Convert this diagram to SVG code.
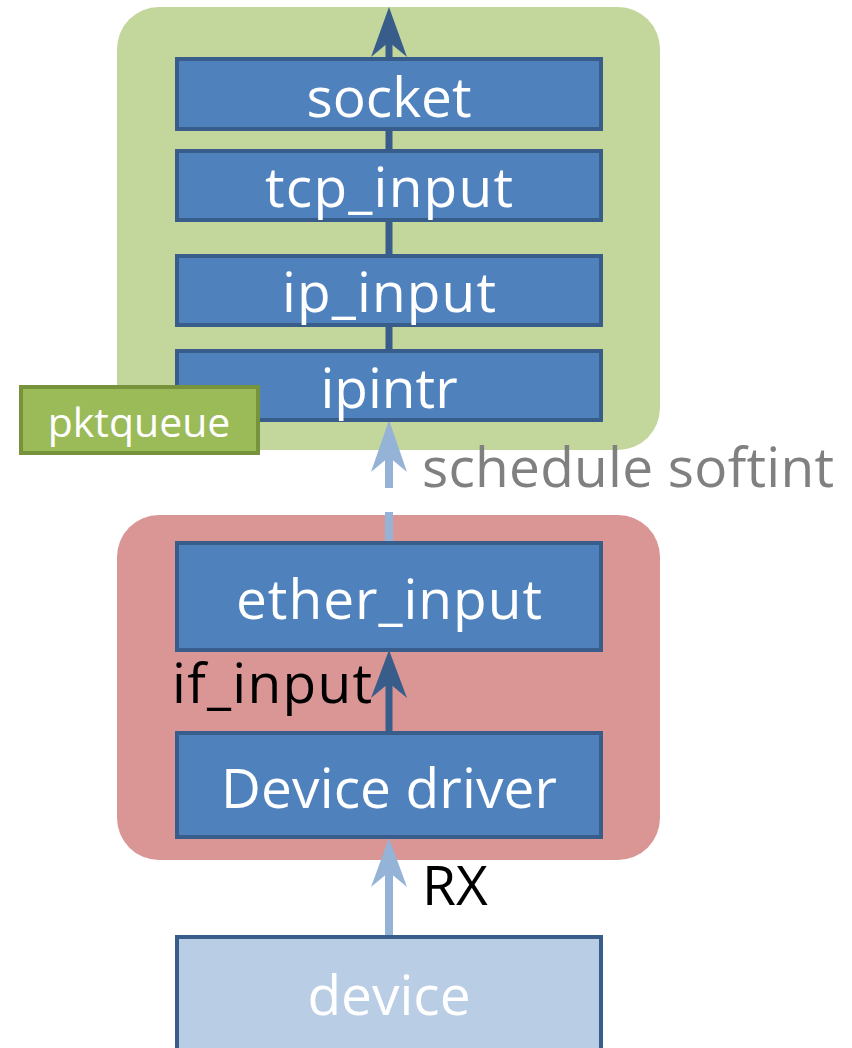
<svg xmlns="http://www.w3.org/2000/svg" width="852" height="1048" viewBox="0 0 852 1048">
  <style>
    .box { fill: #4F81BD; stroke: #385D8A; stroke-width: 4; }
    .dev { fill: #B9CDE5; stroke: #385D8A; stroke-width: 4; }
    .lbl { font-family: "Open Sans", "Noto Sans", sans-serif; font-size: 55px; fill: #FFFFFF; text-anchor: middle; }
    .note { font-family: "Open Sans", "Noto Sans", sans-serif; font-size: 55px; fill: #000000; }
    .dark { stroke: #385D8A; stroke-width: 7; fill: none; }
    .light { stroke: #95B3D7; stroke-width: 8; fill: none; }
  </style>

  <!-- containers -->
  <g id="softint-layer">
    <rect x="117" y="7" width="543" height="443" rx="42" fill="#C3D69B"/>
  </g>
  <g id="hardint-layer">
    <rect x="117" y="515" width="543" height="345" rx="42" fill="#D99694"/>
  </g>

  <!-- connectors -->
  <g id="connectors">
    <!-- upward path through the protocol stack -->
    <line class="dark" x1="389" y1="420" x2="389" y2="40"/>
    <path d="M389 7 L407 57 L389 42 L371 57 Z" fill="#385D8A"/>
    <!-- if_input -->
    <line class="dark" x1="389" y1="733" x2="389" y2="680"/>
    <path d="M389 650 L407 698 L389 683 L371 698 Z" fill="#385D8A"/>
    <!-- schedule softint (dashed) -->
    <line class="light" x1="389" y1="543" x2="389" y2="512"/>
    <line class="light" x1="389" y1="488" x2="389" y2="450"/>
    <path d="M389 420 L407 472 L389 457 L371 472 Z" fill="#95B3D7"/>
    <!-- RX -->
    <line class="light" x1="389" y1="937" x2="389" y2="870"/>
    <path d="M389 838 L407 887 L389 872 L371 887 Z" fill="#95B3D7"/>
  </g>

  <g id="socket">
    <rect class="box" x="177" y="59" width="424" height="70"/>
    <text class="lbl" x="389" y="117">socket</text>
  </g>
  <g id="tcp_input">
    <rect class="box" x="177" y="151" width="424" height="69"/>
    <text class="lbl" x="389" y="207" textLength="248">tcp_input</text>
  </g>
  <g id="ip_input">
    <rect class="box" x="177" y="256" width="424" height="69"/>
    <text class="lbl" x="389" y="312" textLength="214">ip_input</text>
  </g>
  <g id="ipintr">
    <rect class="box" x="177" y="351" width="424" height="69"/>
    <text class="lbl" x="389" y="408">ipintr</text>
  </g>
  <g id="pktqueue">
    <rect x="21" y="387" width="237" height="66" fill="#9BBB59" stroke="#77933C" stroke-width="4"/>
    <text x="139" y="437" font-family="Open Sans, Noto Sans, sans-serif" font-size="41" fill="#FFFFFF" text-anchor="middle">pktqueue</text>
  </g>
  <g id="ether_input">
    <rect class="box" x="177" y="543" width="424" height="107"/>
    <text class="lbl" x="389" y="619" textLength="306">ether_input</text>
  </g>
  <g id="device_driver">
    <rect class="box" x="177" y="733" width="424" height="104"/>
    <text class="lbl" x="389" y="808" textLength="336">Device driver</text>
  </g>
  <g id="device">
    <rect class="dev" x="177" y="937" width="424" height="120"/>
    <text class="lbl" x="389" y="1015">device</text>
  </g>

  <!-- connector labels -->
  <g id="labels">
    <text class="note" x="172" y="703" textLength="200">if_input</text>
    <text class="note" x="422" y="905">RX</text>
    <text class="note" x="422" y="487" style="fill:#808080" textLength="412">schedule softint</text>
  </g>
</svg>
